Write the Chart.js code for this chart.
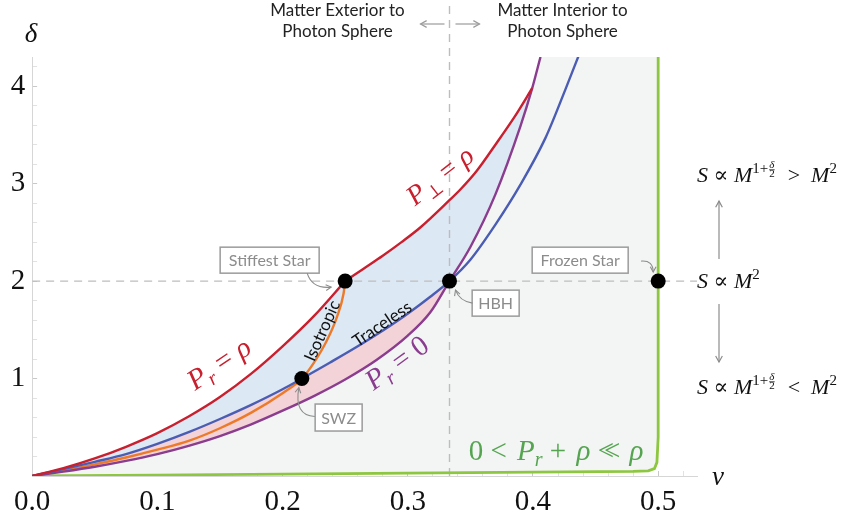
<!DOCTYPE html>
<html lang="en">
<head>
<meta charset="UTF-8">
<title>Compactness and entropy scaling</title>
<script src="https://cdn.jsdelivr.net/npm/chart.js"></script>
<style>
  html, body { margin: 0; padding: 0; background: #fff; }
  #wrap { width: 847px; height: 522px; position: relative; }
</style>
</head>
<body>
<div id="wrap"><canvas id="chart"></canvas></div>
<script>
// curves: nu on x, delta on y

// P_r = rho (lower red)
const redLowNu    = [0, 0.025, 0.05, 0.075, 0.1, 0.125, 0.15, 0.175, 0.2, 0.225, 0.25];
const redLowDelta = [0, 0.08, 0.18, 0.30, 0.44, 0.61, 0.81, 1.05, 1.33, 1.64, 2.0];

// P_perp = rho (upper red)
const redHighNu    = [0.25, 0.265, 0.28, 0.295, 0.31, 0.3333, 0.342, 0.355, 0.37, 0.385, 0.3994];
const redHighDelta = [2.0, 2.13, 2.26, 2.40, 2.55, 2.83, 2.94, 3.13, 3.40, 3.68, 3.98];

// traceless (blue)
const blueNu    = [0, 0.025, 0.05, 0.075, 0.1, 0.125, 0.15, 0.175, 0.2, 0.2154, 0.238, 0.265, 0.291, 0.318, 0.3333, 0.35, 0.37, 0.39, 0.41, 0.4257, 0.4385];
const blueDelta = [0, 0.07, 0.145, 0.225, 0.33, 0.45, 0.585, 0.73, 0.89, 1.0, 1.165, 1.37, 1.585, 1.84, 2.0, 2.22, 2.58, 2.99, 3.47, 3.96, 4.38];

// P_r = 0 (purple)
const purpleNu    = [0, 0.025, 0.05, 0.075, 0.1, 0.125, 0.15, 0.175, 0.2, 0.225, 0.25, 0.275, 0.3, 0.318, 0.3333, 0.35, 0.37, 0.39, 0.3994, 0.406];
const purpleDelta = [0, 0.045, 0.095, 0.155, 0.225, 0.31, 0.41, 0.53, 0.67, 0.82, 0.99, 1.19, 1.44, 1.68, 2.0, 2.35, 2.89, 3.59, 3.98, 4.3];

// isotropic (orange)
const orangeNu    = [0, 0.025, 0.05, 0.075, 0.1, 0.125, 0.15, 0.175, 0.2, 0.2154, 0.2247, 0.2354, 0.2434, 0.2487, 0.25];
const orangeDelta = [0, 0.055, 0.12, 0.19, 0.27, 0.36, 0.49, 0.65, 0.85, 1.0, 1.156, 1.39, 1.63, 1.87, 2.0];

// 0 < P_r + rho << rho boundary (green)
const greenNu    = [0, 0.1, 0.2, 0.3, 0.4, 0.48, 0.492, 0.497, 0.499, 0.5, 0.5];
const greenDelta = [0, 0.01, 0.02, 0.03, 0.04, 0.048, 0.053, 0.075, 0.14, 0.4, 4.3];

// marked solutions: SWZ, stiffest star, HBH, frozen star
const markNu    = [0.2154, 0.25, 1 / 3, 0.5];
const markDelta = [1.0, 2.0, 2.0, 2.0];

// guide lines
const photonNu = 1 / 3;
const areaLawDelta = 2;

const xTickValues = [0, 0.1, 0.2, 0.3, 0.4, 0.5];
const xTickLabels = ['0.0', '0.1', '0.2', '0.3', '0.4', '0.5'];
const yTickValues = [1, 2, 3, 4];
const yTickLabels = ['1', '2', '3', '4'];

const NU_MAX = 0.531, DELTA_MAX = 4.3;

const pts = (nu, delta) => nu.map((x, i) => ({ x: x, y: delta[i] }));

// fill boundaries built from the curves above
const redAll = pts(redLowNu, redLowDelta).concat(pts(redHighNu, redHighDelta).slice(1));
const blueLower = pts(blueNu, blueDelta).filter(p => p.x <= photonNu + 1e-6);
const blueBottom = blueLower.concat(pts(purpleNu, purpleDelta).filter(p => p.x > photonNu + 1e-6 && p.x <= 0.3994 + 1e-6));
const grayShape = pts(purpleNu, purpleDelta).concat(pts(greenNu, greenDelta).reverse());

const RED = '#c8202e', BLUE = '#4b5db3', PURPLE = '#8a3c8e', ORANGE = '#ec7a2a', GREEN = '#8dc63f';
const SERIF = "'Liberation Serif', 'DejaVu Serif', serif";
const SANS = "Lato, 'Open Sans', sans-serif";

function curve(data, color, width, order, extra) {
    return Object.assign({
        data: data, borderColor: color, borderWidth: width, pointRadius: 0,
        fill: false, cubicInterpolationMode: 'monotone', order: order
    }, extra || {});
}

// ---- text helpers for the math labels ----
function fontOf(k, size) {
    if (k === 'i') return 'italic ' + size + 'px ' + SERIF;
    if (k === 'sub') return 'italic ' + Math.round(size * 0.68) + 'px ' + SERIF;
    if (k === 'subr' || k === 'sup') return Math.round(size * 0.66) + 'px ' + SERIF;
    return size + 'px ' + SERIF;
}

function drawMath(ctx, runs, x, y, size, color, angle, align) {
    ctx.save();
    ctx.translate(x, y);
    ctx.rotate((angle || 0) * Math.PI / 180);
    ctx.fillStyle = color;
    ctx.strokeStyle = color;
    ctx.textBaseline = 'alphabetic';
    ctx.textAlign = 'left';
    const fs = Math.round(size * 0.5);
    const widths = runs.map(r => {
        if (r.k === 'frac') {
            ctx.font = 'italic ' + fs + 'px ' + SERIF;
            const a = ctx.measureText(r.n).width;
            ctx.font = fs + 'px ' + SERIF;
            const b = ctx.measureText(r.d).width;
            return Math.max(a, b) + 3;
        }
        ctx.font = fontOf(r.k, size);
        return ctx.measureText(r.t).width + (r.pad || 0);
    });
    const total = widths.reduce((a, b) => a + b, 0);
    let cx = align === 'left' ? 0 : -total / 2;
    const base = align === 'left' ? 0 : size * 0.3;
    runs.forEach((r, i) => {
        if (r.k === 'frac') {
            const w = widths[i] - 3;
            ctx.font = 'italic ' + fs + 'px ' + SERIF;
            ctx.textAlign = 'center';
            ctx.fillText(r.n, cx + 1 + w / 2, base - size * 0.66);
            ctx.font = fs + 'px ' + SERIF;
            ctx.fillText(r.d, cx + 1 + w / 2, base - size * 0.24);
            ctx.lineWidth = 0.8;
            ctx.beginPath();
            ctx.moveTo(cx + 1, base - size * 0.56);
            ctx.lineTo(cx + 1 + w, base - size * 0.56);
            ctx.stroke();
            ctx.textAlign = 'left';
        } else {
            ctx.font = fontOf(r.k, size);
            let dy = 0;
            if (r.k === 'sub' || r.k === 'subr') dy = size * 0.2;
            if (r.k === 'sup') dy = -size * 0.4;
            ctx.fillText(r.t, cx, base + dy);
        }
        cx += widths[i];
    });
    ctx.restore();
}

function arrowHead(ctx, x, y, ang, len) {
    ctx.beginPath();
    ctx.moveTo(x - len * Math.cos(ang - 0.5), y - len * Math.sin(ang - 0.5));
    ctx.lineTo(x, y);
    ctx.lineTo(x - len * Math.cos(ang + 0.5), y - len * Math.sin(ang + 0.5));
    ctx.stroke();
}

function straightArrow(ctx, x0, y0, x1, y1) {
    ctx.beginPath();
    ctx.moveTo(x0, y0);
    ctx.lineTo(x1, y1);
    ctx.stroke();
    arrowHead(ctx, x1, y1, Math.atan2(y1 - y0, x1 - x0), 7);
}

function curvedArrow(ctx, p, s, c, e) {
    ctx.beginPath();
    ctx.moveTo(p.x + s[0], p.y + s[1]);
    ctx.quadraticCurveTo(p.x + c[0], p.y + c[1], p.x + e[0], p.y + e[1]);
    ctx.stroke();
    arrowHead(ctx, p.x + e[0], p.y + e[1], Math.atan2(e[1] - c[1], e[0] - c[0]), 6);
}

function callout(ctx, cx, cy, w, h, label) {
    ctx.fillStyle = '#fff';
    ctx.fillRect(cx - w / 2, cy - h / 2, w, h);
    ctx.strokeStyle = '#9b9b9b';
    ctx.lineWidth = 1.5;
    ctx.strokeRect(cx - w / 2, cy - h / 2, w, h);
    ctx.fillStyle = '#8c8c8c';
    ctx.font = '16px ' + SANS;
    ctx.textAlign = 'center';
    ctx.textBaseline = 'middle';
    ctx.fillText(label, cx, cy + 1);
}

function rotatedText(ctx, text, x, y, angle, size) {
    ctx.save();
    ctx.fillStyle = '#111';
    ctx.font = size + 'px ' + SANS;
    ctx.textAlign = 'center';
    ctx.textBaseline = 'middle';
    ctx.translate(x, y);
    ctx.rotate(angle * Math.PI / 180);
    ctx.fillText(text, 0, 0);
    ctx.restore();
}

const annotations = {
    id: 'annotations',
    afterDraw(chart) {
        const ctx = chart.ctx;
        const X = v => chart.scales.x.getPixelForValue(v);
        const Y = v => chart.scales.y.getPixelForValue(v);
        const area = chart.chartArea;

        // axis symbols
        drawMath(ctx, [{ k: 'i', t: 'δ' }], area.left - 1, area.top - 23, 27, '#111', 0);
        drawMath(ctx, [{ k: 'i', t: 'ν' }], area.right + 21, area.bottom + 1, 27, '#111', 0);

        // curve labels
        drawMath(ctx, [{ k: 'i', t: 'P' }, { k: 'sub', t: 'r' }, { k: 'r', t: ' = ' }, { k: 'i', t: 'ρ' }],
            X(0.1494), Y(1.149), 29, RED, -34);
        drawMath(ctx, [{ k: 'i', t: 'P' }, { k: 'subr', t: '⊥' }, { k: 'r', t: ' = ' }, { k: 'i', t: 'ρ' }],
            X(0.3259), Y(3.077), 28, RED, -38);
        drawMath(ctx, [{ k: 'i', t: 'P' }, { k: 'sub', t: 'r' }, { k: 'r', t: ' = 0' }],
            X(0.2915), Y(1.159), 29, PURPLE, -36);
        drawMath(ctx, [{ k: 'r', t: '0 < ', pad: 3 }, { k: 'i', t: 'P' }, { k: 'sub', t: 'r' }, { k: 'r', t: ' + ', pad: 3 },
            { k: 'i', t: 'ρ' }, { k: 'r', t: ' <', pad: -10 }, { k: 'r', t: '< ', pad: 2 }, { k: 'i', t: 'ρ' }],
            X(0.4185), Y(0.256), 29, '#55a550', 0);

        rotatedText(ctx, 'Isotropic', X(0.2318), Y(1.49), -66, 17);
        rotatedText(ctx, 'Traceless', X(0.2796), Y(1.559), -34, 17);

        // photon sphere captions
        const xp = X(photonNu);
        ctx.fillStyle = '#222';
        ctx.font = '17px ' + SANS;
        ctx.textAlign = 'center';
        ctx.textBaseline = 'alphabetic';
        ctx.fillText('Matter Exterior to', xp - 112, 16);
        ctx.fillText('Photon Sphere', xp - 112, 37);
        ctx.fillText('Matter Interior to', xp + 113, 16);
        ctx.fillText('Photon Sphere', xp + 113, 37);
        ctx.strokeStyle = '#9b9b9b';
        ctx.lineWidth = 1.2;
        straightArrow(ctx, xp - 5, 24, xp - 29, 24);
        straightArrow(ctx, xp + 6, 24, xp + 30, 24);

        // entropy scaling on the right
        const rx = area.right;
        const yA = Y(areaLawDelta);
        const up = [{ k: 'i', t: 'S' }, { k: 'r', t: ' ∝ ' }, { k: 'i', t: 'M' }, { k: 'sup', t: '1+' },
            { k: 'frac', n: 'δ', d: '2' }, { k: 'r', t: '  >  ' }, { k: 'i', t: 'M' }, { k: 'sup', t: '2' }];
        const down = up.slice();
        down[5] = { k: 'r', t: '  <  ' };
        drawMath(ctx, up, rx, yA - 99, 22, '#111', 0, 'left');
        drawMath(ctx, [{ k: 'i', t: 'S' }, { k: 'r', t: ' ∝ ' }, { k: 'i', t: 'M' }, { k: 'sup', t: '2' }],
            rx, yA + 7, 22, '#111', 0, 'left');
        drawMath(ctx, down, rx, yA + 113, 22, '#111', 0, 'left');
        ctx.strokeStyle = '#8c8c8c';
        ctx.lineWidth = 1.2;
        straightArrow(ctx, rx + 22, yA - 22, rx + 22, yA - 80);
        straightArrow(ctx, rx + 22, yA + 23, rx + 22, yA + 81);

        // callouts
        callout(ctx, X(0.1897), Y(2.215), 99, 26, 'Stiffest Star');
        callout(ctx, X(0.4377), Y(2.215), 96, 26, 'Frozen Star');
        callout(ctx, X(0.3702), Y(1.774), 47, 26, 'HBH');
        callout(ctx, X(0.2448), Y(0.60), 47, 27, 'SWZ');

        ctx.strokeStyle = '#8c8c8c';
        ctx.lineWidth = 1.1;
        const P = i => ({ x: X(markNu[i]), y: Y(markDelta[i]) });
        curvedArrow(ctx, P(1), [-38, -8], [-33, 8], [-14, 6]);
        curvedArrow(ctx, P(0), [13, 38], [-8, 37], [-3, 9]);
        curvedArrow(ctx, P(2), [23, 22], [10, 20], [6, 9]);
        curvedArrow(ctx, P(3), [-17, -20], [-5, -21], [-5, -9]);
    }
};

new Chart(document.getElementById('chart'), {
    type: 'line',
    data: {
        datasets: [
            { data: pts(markNu, markDelta), showLine: false, pointRadius: 7.5, pointHoverRadius: 7.5,
              pointBackgroundColor: '#000', pointBorderWidth: 0, order: 0 },
            curve(pts(redLowNu, redLowDelta), RED, 2.4, 1),
            curve(pts(redHighNu, redHighDelta), RED, 2.4, 1),
            curve(pts(blueNu, blueDelta), BLUE, 2.4, 2),
            curve(pts(purpleNu, purpleDelta), PURPLE, 2.4, 2),
            curve(pts(orangeNu, orangeDelta), ORANGE, 2.4, 3),
            curve(pts(greenNu, greenDelta), GREEN, 2.8, 3, { cubicInterpolationMode: 'default', tension: 0 }),
            curve([{ x: photonNu, y: 0 }, { x: photonNu, y: 4.9 }], '#bdbdbd', 1.4, 4,
                { borderDash: [8, 6], clip: false, cubicInterpolationMode: 'default' }),
            curve([{ x: 0, y: areaLawDelta }, { x: NU_MAX, y: areaLawDelta }], '#bdbdbd', 1.4, 4,
                { borderDash: [8, 6], cubicInterpolationMode: 'default' }),
            curve(blueLower, 'rgba(0,0,0,0)', 0, 6, { fill: 4, backgroundColor: '#f3d3d7' }),
            curve(redAll, 'rgba(0,0,0,0)', 0, 7, { fill: 11, backgroundColor: '#dce8f4' }),
            curve(blueBottom, 'rgba(0,0,0,0)', 0, 7),
            curve(grayShape, 'rgba(0,0,0,0)', 0, 8,
                { fill: 'shape', backgroundColor: '#f3f4f4', cubicInterpolationMode: 'default', tension: 0 })
        ]
    },
    options: {
        responsive: true,
        maintainAspectRatio: false,
        devicePixelRatio: 1,
        animation: false,
        events: [],
        layout: { padding: { top: 57, right: 150, left: 0, bottom: 0 } },
        plugins: { legend: { display: false }, tooltip: { enabled: false } },
        scales: {
            x: {
                type: 'linear', min: 0, max: NU_MAX,
                afterBuildTicks(scale) {
                    const t = [];
                    for (let i = 0; i <= 26; i++) t.push({ value: +(i * 0.02).toFixed(2) });
                    scale.ticks = t;
                },
                afterFit(scale) { scale.height = 46; },
                border: { display: true, color: '#d6d6d6', width: 1 },
                grid: {
                    display: true, drawOnChartArea: false, drawTicks: true, tickLength: -5,
                    tickColor: c => (c.tick && Math.abs(c.tick.value * 10 - Math.round(c.tick.value * 10)) < 1e-6) ? '#c8c8c8' : '#e2e2e2'
                },
                ticks: {
                    autoSkip: false, maxRotation: 0, padding: 14, color: '#111',
                    font: { family: SERIF, size: 29 },
                    callback(value) {
                        const k = xTickValues.findIndex(v => Math.abs(v - value) < 1e-6);
                        return k >= 0 ? xTickLabels[k] : '';
                    }
                }
            },
            y: {
                type: 'linear', min: 0, max: DELTA_MAX,
                afterBuildTicks(scale) {
                    const t = [];
                    for (let i = 0; i <= 21; i++) t.push({ value: +(i * 0.2).toFixed(1) });
                    scale.ticks = t;
                },
                afterFit(scale) { scale.width = 32; },
                border: { display: true, color: '#d6d6d6', width: 1 },
                grid: {
                    display: true, drawOnChartArea: false, drawTicks: true, tickLength: -5,
                    tickColor: c => (c.tick && Math.abs(c.tick.value - Math.round(c.tick.value)) < 1e-6) ? '#c8c8c8' : '#e2e2e2'
                },
                ticks: {
                    autoSkip: false, padding: 12, color: '#111',
                    font: { family: SERIF, size: 29 },
                    callback(value) {
                        const k = yTickValues.findIndex(v => Math.abs(v - value) < 1e-6);
                        return k >= 0 ? yTickLabels[k] : '';
                    }
                }
            }
        }
    },
    plugins: [annotations]
});
</script>
</body>
</html>
